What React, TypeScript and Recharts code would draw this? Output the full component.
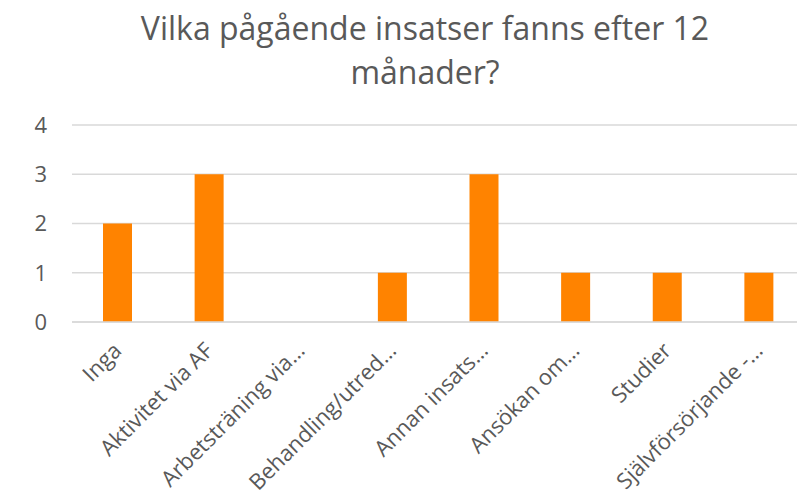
import { BarChart, Bar, XAxis, YAxis, CartesianGrid } from "recharts";

const categories = [
  "Inga",
  "Aktivitet via AF",
  "Arbetsträning via…",
  "Behandling/utred…",
  "Annan insats…",
  "Ansökan om…",
  "Studier",
  "Självförsörjande -…",
];
const counts = [2, 3, 0, 1, 3, 1, 1, 1];
const yTicks = [0, 1, 2, 3, 4];

const data = categories.map((name, i) => ({ name, value: counts[i] }));

const FONT = "'Open Sans', sans-serif";
const GREY = "#595959";

function CategoryTick(props: any) {
  const { x, y, payload } = props;
  const ax = x + 5;
  const ay = y + 30;
  return (
    <text
      x={ax}
      y={ay}
      transform={`rotate(-45, ${ax}, ${ay})`}
      textAnchor="end"
      fill={GREY}
      fontSize={22}
      fontFamily={FONT}
    >
      {payload.value}
    </text>
  );
}

export default function App() {
  return (
    <div
      style={{
        position: "absolute",
        left: 0,
        top: 0,
        width: 797,
        height: 495,
        overflow: "hidden",
        background: "#fff",
      }}
    >
      <div
        style={{
          position: "absolute",
          left: 0,
          top: 6,
          width: 850,
          textAlign: "center",
          fontFamily: FONT,
          fontSize: 32,
          lineHeight: "44px",
          color: GREY,
        }}
      >
        Vilka pågående insatser fanns efter 12
        <br />
        månader?
      </div>
      <BarChart
        width={850}
        height={495}
        data={data}
        margin={{ top: 125, right: 45, bottom: 23, left: 0 }}
      >
        <CartesianGrid vertical={false} stroke="#d9d9d9" strokeWidth={1.3} />
        <XAxis
          dataKey="name"
          interval={0}
          height={150}
          tickLine={false}
          tickSize={0}
          tickMargin={0}
          axisLine={{ stroke: "#d9d9d9", strokeWidth: 1.3 }}
          tick={<CategoryTick />}
        />
        <YAxis
          width={72}
          domain={[0, 4]}
          ticks={yTicks}
          axisLine={false}
          tickLine={false}
          tickSize={0}
          tickMargin={25}
          tick={{ fill: GREY, fontSize: 22, fontFamily: FONT }}
        />
        <Bar dataKey="value" fill="#ff8300" barSize={29} isAnimationActive={false} />
      </BarChart>
    </div>
  );
}
